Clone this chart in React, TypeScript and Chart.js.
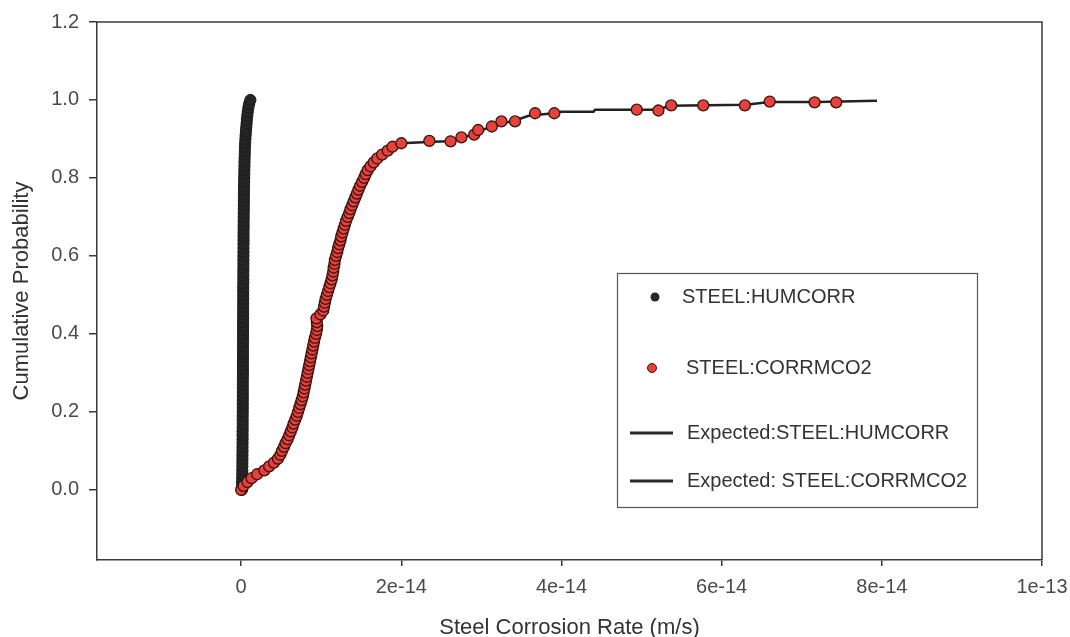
import React, { useEffect, useRef } from 'react';
import { Chart, registerables } from 'chart.js';

Chart.register(...registerables);

// x values are given in units of 1e-15 m/s
const X_UNIT = 1e-15;

// STEEL:HUMCORR sampled points
const humcorrX = [
  0.10, 0.12, 0.12, 0.13, 0.14, 0.14, 0.15, 0.15, 0.16, 0.16,
  0.17, 0.17, 0.17, 0.18, 0.18, 0.18, 0.19, 0.19, 0.19, 0.19,
  0.20, 0.20, 0.20, 0.20, 0.21, 0.21, 0.21, 0.21, 0.21, 0.22,
  0.22, 0.22, 0.22, 0.22, 0.23, 0.23, 0.23, 0.23, 0.23, 0.24,
  0.24, 0.24, 0.24, 0.24, 0.25, 0.25, 0.25, 0.25, 0.25, 0.26,
  0.26, 0.26, 0.26, 0.27, 0.27, 0.27, 0.27, 0.28, 0.28, 0.28,
  0.28, 0.29, 0.29, 0.29, 0.30, 0.30, 0.30, 0.31, 0.31, 0.31,
  0.32, 0.32, 0.33, 0.33, 0.34, 0.34, 0.35, 0.35, 0.36, 0.37,
  0.38, 0.39, 0.40, 0.41, 0.42, 0.43, 0.45, 0.46, 0.48, 0.50,
  0.53, 0.56, 0.60, 0.64, 0.68, 0.72, 0.77, 0.83, 0.90, 1.00, 1.15,
];
const humcorrY = [
  0.00, 0.01, 0.02, 0.03, 0.04, 0.05, 0.06, 0.07, 0.08, 0.09,
  0.10, 0.11, 0.12, 0.13, 0.14, 0.15, 0.16, 0.17, 0.18, 0.19,
  0.20, 0.21, 0.22, 0.23, 0.24, 0.25, 0.26, 0.27, 0.28, 0.29,
  0.30, 0.31, 0.32, 0.33, 0.34, 0.35, 0.36, 0.37, 0.38, 0.39,
  0.40, 0.41, 0.42, 0.43, 0.44, 0.45, 0.46, 0.47, 0.48, 0.49,
  0.50, 0.51, 0.52, 0.53, 0.54, 0.55, 0.56, 0.57, 0.58, 0.59,
  0.60, 0.61, 0.62, 0.63, 0.64, 0.65, 0.66, 0.67, 0.68, 0.69,
  0.70, 0.71, 0.72, 0.73, 0.74, 0.75, 0.76, 0.77, 0.78, 0.79,
  0.80, 0.81, 0.82, 0.83, 0.84, 0.85, 0.86, 0.87, 0.88, 0.89,
  0.90, 0.91, 0.92, 0.93, 0.94, 0.95, 0.96, 0.97, 0.98, 0.99, 1.00,
];

// STEEL:CORRMCO2 sampled points (steep part)
const corrmco2X = [
  0.0, 0.3, 0.8, 1.3, 2.0, 2.9, 3.5, 4.1, 4.6, 4.9,
  5.1, 5.35, 5.55, 5.8, 6.0, 6.2, 6.4, 6.55, 6.75, 6.95,
  7.1, 7.25, 7.4, 7.55, 7.7, 7.8, 7.9, 8.0, 8.1, 8.2,
  8.3, 8.4, 8.5, 8.6, 8.7, 8.8, 8.9, 9.0, 9.1, 9.2,
  9.35, 9.45, 9.5, 9.45, 9.4, 9.9, 10.25, 10.35, 10.45, 10.55,
  10.7, 10.85, 11.0, 11.15, 11.3, 11.4, 11.5, 11.55, 11.65, 11.7,
  11.85, 12.0, 12.1, 12.25, 12.4, 12.5, 12.65, 12.8, 12.95, 13.1,
  13.3, 13.5, 13.65, 13.85, 14.05, 14.25, 14.45, 14.65, 14.85, 15.1,
  15.35, 15.55, 15.8, 16.15, 16.55, 17.0, 17.6, 18.3, 18.9,
];
const corrmco2Y = [
  0.00, 0.01, 0.02, 0.03, 0.04, 0.05, 0.06, 0.07, 0.08, 0.09,
  0.10, 0.11, 0.12, 0.13, 0.14, 0.15, 0.16, 0.17, 0.18, 0.19,
  0.20, 0.21, 0.22, 0.23, 0.24, 0.25, 0.26, 0.27, 0.28, 0.29,
  0.30, 0.31, 0.32, 0.33, 0.34, 0.35, 0.36, 0.37, 0.38, 0.39,
  0.40, 0.41, 0.42, 0.43, 0.44, 0.45, 0.46, 0.47, 0.48, 0.49,
  0.50, 0.51, 0.52, 0.53, 0.54, 0.55, 0.56, 0.57, 0.58, 0.59,
  0.60, 0.61, 0.62, 0.63, 0.64, 0.65, 0.66, 0.67, 0.68, 0.69,
  0.70, 0.71, 0.72, 0.73, 0.74, 0.75, 0.76, 0.77, 0.78, 0.79,
  0.80, 0.81, 0.82, 0.83, 0.84, 0.85, 0.86, 0.87, 0.88,
];
// STEEL:CORRMCO2 sampled points (upper tail)
const corrmco2TailX = [20.0, 23.5, 26.15, 27.5, 29.1, 29.6, 31.3, 32.5, 34.2, 36.7, 39.1, 49.4, 52.1, 53.7, 57.7, 62.9, 66.0, 71.6, 74.3];
const corrmco2TailY = [0.889, 0.895, 0.894, 0.904, 0.911, 0.923, 0.932, 0.945, 0.945, 0.966, 0.966, 0.975, 0.973, 0.986, 0.986, 0.986, 0.996, 0.994, 0.994];

// Expected curves
const expHumX = [0.05, 0.15, 0.2, 0.25, 0.32, 0.45, 0.6, 0.9, 1.2];
const expHumY = [0.0, 0.1, 0.4, 0.7, 0.8, 0.88, 0.92, 0.97, 1.0];
const expCorrX = [0, 2, 4, 5, 6, 7, 8, 9, 10, 11, 12, 13, 14, 15, 16, 17, 18, 19, 20, 24, 26, 28, 30, 32, 34, 36, 39.1, 40, 44, 44.2, 52, 53.5, 63, 66, 72, 79.4];
const expCorrY = [0.0, 0.04, 0.075, 0.10, 0.14, 0.195, 0.27, 0.37, 0.46, 0.52, 0.61, 0.685, 0.735, 0.785, 0.83, 0.85, 0.87, 0.882, 0.889, 0.893, 0.894, 0.905, 0.922, 0.938, 0.946, 0.96, 0.966, 0.970, 0.970, 0.975, 0.975, 0.985, 0.988, 0.995, 0.995, 0.998];

const xTickValues = [0, 2e-14, 4e-14, 6e-14, 8e-14, 1e-13];
const xTickLabels = ['0', '2e-14', '4e-14', '6e-14', '8e-14', '1e-13'];
const yTickValues = [0, 0.2, 0.4, 0.6, 0.8, 1.0, 1.2];
const yTickLabels = ['0.0', '0.2', '0.4', '0.6', '0.8', '1.0', '1.2'];

const X_MIN = -1.8e-14;
const X_MAX = 1e-13;
const Y_MIN = -0.18;
const Y_MAX = 1.2;

const xTitle = 'Steel Corrosion Rate (m/s)';
const yTitle = 'Cumulative Probability';
const seriesLabels = ['STEEL:HUMCORR', 'STEEL:CORRMCO2', 'Expected:STEEL:HUMCORR', 'Expected: STEEL:CORRMCO2'];

const FONT = '"Liberation Sans", Arial, Helvetica, sans-serif';
const AXIS = '#3a3a3a';
const RED = '#e6423d';
const RED_EDGE = '#3a120e';
const BLACK = '#262626';

const toPts = (xs: number[], ys: number[]) => xs.map((x, i) => ({ x: x * X_UNIT, y: ys[i] }));

const framePlugin = {
  id: 'frame',
  beforeDatasetsDraw(chart: any) {
    const { ctx, chartArea } = chart;
    const { left, right, top, bottom } = chartArea;
    ctx.save();
    ctx.strokeStyle = AXIS;
    ctx.lineWidth = 1.5;
    ctx.beginPath();
    ctx.moveTo(left, top);
    ctx.lineTo(right, top);
    ctx.lineTo(right, bottom);
    ctx.stroke();
    ctx.restore();
  },
};

const legendPlugin = {
  id: 'boxLegend',
  afterDraw(chart: any) {
    const ctx = chart.ctx;
    ctx.save();
    ctx.strokeStyle = '#555';
    ctx.lineWidth = 1.2;
    ctx.strokeRect(617.5, 273.5, 360, 234);
    ctx.font = `20px ${FONT}`;
    ctx.textBaseline = 'middle';
    ctx.textAlign = 'left';

    // marker 1
    ctx.beginPath();
    ctx.arc(655, 297, 4.5, 0, Math.PI * 2);
    ctx.fillStyle = BLACK;
    ctx.fill();
    ctx.fillStyle = '#333';
    ctx.fillText(seriesLabels[0], 682, 297);

    // marker 2
    ctx.beginPath();
    ctx.arc(652, 368, 4.5, 0, Math.PI * 2);
    ctx.fillStyle = RED;
    ctx.fill();
    ctx.strokeStyle = RED_EDGE;
    ctx.lineWidth = 1;
    ctx.stroke();
    ctx.fillStyle = '#333';
    ctx.fillText(seriesLabels[1], 686, 368);

    // line 3
    ctx.strokeStyle = '#2a2a2a';
    ctx.lineWidth = 3;
    ctx.beginPath();
    ctx.moveTo(630, 433);
    ctx.lineTo(673, 433);
    ctx.stroke();
    ctx.fillText(seriesLabels[2], 687, 433);

    // line 4
    ctx.beginPath();
    ctx.moveTo(630, 481);
    ctx.lineTo(673, 481);
    ctx.stroke();
    ctx.fillText(seriesLabels[3], 687, 481);
    ctx.restore();
  },
};

export default function App() {
  const canvasRef = useRef<HTMLCanvasElement | null>(null);

  useEffect(() => {
    const canvas = canvasRef.current;
    if (!canvas) return;
    const chart = new Chart(canvas, {
      type: 'scatter',
      data: {
        datasets: [
          {
            label: seriesLabels[1],
            data: toPts(corrmco2X.concat(corrmco2TailX), corrmco2Y.concat(corrmco2TailY)),
            backgroundColor: RED,
            borderColor: RED_EDGE,
            borderWidth: 1.3,
            pointRadius: 5.5,
            showLine: false,
            order: 0,
          },
          {
            label: seriesLabels[0],
            data: toPts(humcorrX, humcorrY),
            backgroundColor: BLACK,
            borderColor: '#1a1a1a',
            borderWidth: 1,
            pointRadius: 5.6,
            showLine: false,
            order: 1,
          },
          {
            label: seriesLabels[3],
            data: toPts(expCorrX, expCorrY),
            borderColor: '#222',
            backgroundColor: '#222',
            borderWidth: 2.5,
            pointRadius: 0,
            showLine: true,
            tension: 0,
            order: 2,
          },
          {
            label: seriesLabels[2],
            data: toPts(expHumX, expHumY),
            borderColor: '#222',
            backgroundColor: '#222',
            borderWidth: 2.5,
            pointRadius: 0,
            showLine: true,
            tension: 0,
            order: 3,
          },
        ],
      },
      options: {
        animation: false,
        responsive: false,
        maintainAspectRatio: false,
        layout: { padding: { top: 22, right: 28, left: 0, bottom: 0 } },
        plugins: {
          legend: { display: false },
          tooltip: { enabled: false },
        },
        scales: {
          x: {
            type: 'linear',
            min: X_MIN,
            max: X_MAX,
            afterBuildTicks: (scale: any) => {
              scale.ticks = xTickValues.map((v) => ({ value: v }));
            },
            afterFit: (scale: any) => {
              scale.height = 77;
              scale.paddingLeft = 0;
              scale.paddingRight = 0;
            },
            ticks: {
              callback: (_v: any, i: number) => xTickLabels[i],
              color: '#4a4a4a',
              font: { family: FONT, size: 20 },
              padding: 9,
              maxRotation: 0,
              autoSkip: false,
            },
            grid: {
              drawOnChartArea: false,
              drawTicks: true,
              tickLength: 6,
              color: AXIS,
              lineWidth: 1.5,
            },
            border: { display: true, color: AXIS, width: 1.5 },
            title: {
              display: true,
              text: xTitle,
              color: '#333',
              font: { family: FONT, size: 22, lineHeight: 1 },
              padding: { top: 0, bottom: -2 },
            },
          },
          y: {
            type: 'linear',
            min: Y_MIN,
            max: Y_MAX,
            afterBuildTicks: (scale: any) => {
              scale.ticks = yTickValues.map((v) => ({ value: v }));
            },
            afterFit: (scale: any) => {
              scale.width = 97;
              scale.paddingTop = 0;
              scale.paddingBottom = 0;
            },
            ticks: {
              callback: (_v: any, i: number) => yTickLabels[i],
              color: '#4a4a4a',
              font: { family: FONT, size: 20 },
              padding: 10,
              autoSkip: false,
            },
            grid: {
              drawOnChartArea: false,
              drawTicks: true,
              tickLength: 8,
              color: AXIS,
              lineWidth: 1.5,
            },
            border: { display: true, color: AXIS, width: 1.5 },
            title: {
              display: true,
              text: yTitle,
              color: '#333',
              font: { family: FONT, size: 22, lineHeight: 1 },
              padding: { top: 11, bottom: 0 },
            },
          },
        },
      },
      plugins: [framePlugin, legendPlugin],
    } as any);
    return () => chart.destroy();
  }, []);

  return (
    <div style={{ position: 'absolute', left: 0, top: 0, width: 1070, height: 637, background: '#fff' }}>
      <canvas ref={canvasRef} width={1070} height={637} style={{ display: 'block' }} />
    </div>
  );
}
